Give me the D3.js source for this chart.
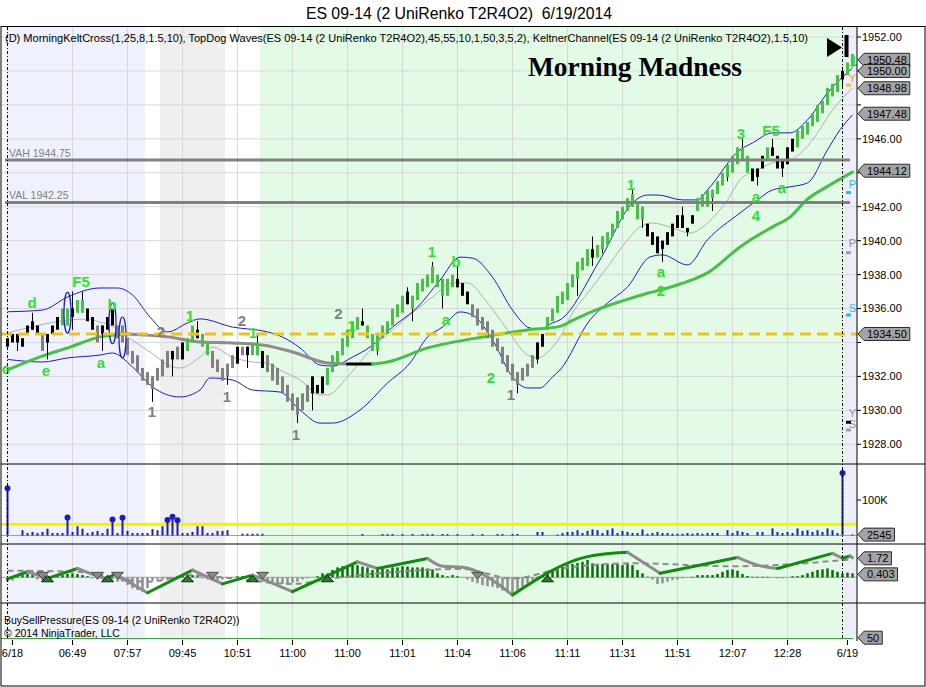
<!DOCTYPE html>
<html>
<head>
<meta charset="UTF-8" />
<title>ES 09-14 Morning Madness</title>
<script src="https://d3js.org/d3.v7.min.js"></script>
<style>
  body { margin: 0; background: #fff; }
  svg text { font-family: Arial, "Liberation Sans", sans-serif; }
</style>
</head>
<body>
<div id="chart"></div>
<script>
// ---- data ----
const priceTicks = d3.range(1928, 1953, 2);
const timeTickIdx = [1, 13, 24, 35, 46, 57, 68, 79, 90, 101, 112, 123, 134, 145, 156, 168];
const timeTickText = ["6/18", "06:49", "07:57", "09:45", "10:51", "11:00", "11:00", "11:01",
  "11:04", "11:06", "11:11", "11:31", "11:51", "12:07", "12:28", "6/19"];

// renko bars: open / close per bar, colour kind (g = up wave, r = down wave, k = other)
const barOpen = [
  1934.25, 1934.5, 1934.5, 1934.25, 1934.5, 1934.75, 1935.0, 1934.5, 1934.0, 1934.5,
  1934.75, 1935.0, 1935.0, 1936.0, 1935.75, 1935.75, 1936.0, 1935.5, 1935.0, 1934.5,
  1934.75, 1935.0, 1935.0, 1935.0, 1934.25, 1933.5, 1933.25, 1932.5, 1932.25, 1932.0,
  1931.75, 1932.0, 1932.5, 1933.5, 1933.0, 1933.0, 1933.5, 1934.0, 1934.75, 1934.5,
  1934.0, 1933.5, 1933.0, 1932.5, 1932.0, 1932.5, 1932.75, 1933.25, 1933.75, 1933.25,
  1933.25, 1933.5, 1933.25, 1932.75, 1932.5, 1932.0, 1931.5, 1931.0, 1930.75, 1930.0,
  1930.5, 1931.0, 1931.5, 1931.0, 1931.5, 1932.25, 1932.75, 1933.25, 1933.75, 1934.25,
  1934.75, 1935.25, 1935.0, 1934.5, 1934.5, 1934.25, 1934.5, 1935.0, 1935.5, 1935.75,
  1937.0, 1936.0, 1936.5, 1937.0, 1937.25, 1937.5, 1938.0, 1937.75, 1936.75, 1937.25,
  1937.75, 1937.5, 1937.0, 1936.25, 1936.0, 1935.5, 1935.25, 1934.75, 1934.25, 1933.75,
  1933.25, 1932.75, 1932.25, 1931.75, 1932.0, 1932.5, 1933.0, 1933.75, 1934.75, 1935.25,
  1935.75, 1936.25, 1936.5, 1937.25, 1937.75, 1938.25, 1938.5, 1939.5, 1939.0, 1939.5,
  1939.75, 1940.25, 1940.75, 1941.25, 1941.75, 1942.0, 1942.25, 1942.0, 1941.0, 1940.5,
  1940.25, 1940.0, 1939.75, 1940.25, 1940.75, 1941.5, 1940.75, 1941.0, 1941.75, 1942.0,
  1942.0, 1942.5, 1942.75, 1943.25, 1943.75, 1944.0, 1944.5, 1945.5, 1945.0, 1944.25,
  1944.25, 1944.25, 1944.75, 1945.5, 1945.0, 1944.75, 1944.5, 1945.25, 1945.5, 1946.0,
  1946.25, 1946.75, 1947.0, 1947.5, 1948.0, 1948.5, 1948.75, 1950.0, 1949.75, 1950.25
];
const barClose = [
  1933.75, 1934.0, 1934.0, 1933.75, 1935.0, 1935.25, 1934.5, 1933.5, 1934.5, 1935.0,
  1935.5, 1936.0, 1936.0, 1935.5, 1936.5, 1936.5, 1935.25, 1934.75, 1934.0, 1935.0,
  1935.5, 1936.0, 1934.25, 1934.0, 1933.25, 1932.75, 1932.25, 1931.75, 1931.5, 1931.25,
  1932.5, 1933.0, 1933.5, 1933.0, 1933.75, 1934.0, 1934.25, 1935.0, 1934.25, 1933.75,
  1933.25, 1932.5, 1932.25, 1931.75, 1932.75, 1933.25, 1933.75, 1933.75, 1933.25, 1934.0,
  1934.0, 1932.5, 1932.25, 1931.75, 1931.5, 1931.0, 1930.5, 1930.0, 1929.75, 1931.0,
  1931.5, 1932.0, 1931.0, 1932.0, 1932.5, 1933.25, 1933.5, 1934.25, 1934.75, 1935.25,
  1935.5, 1935.0, 1934.25, 1933.5, 1933.5, 1935.0, 1935.25, 1936.0, 1936.25, 1936.75,
  1936.25, 1936.75, 1937.5, 1937.75, 1938.0, 1938.5, 1937.25, 1936.75, 1937.75, 1938.0,
  1937.25, 1936.75, 1936.25, 1935.5, 1935.0, 1934.75, 1934.25, 1933.75, 1933.5, 1932.75,
  1932.25, 1931.75, 1931.5, 1932.5, 1932.75, 1933.25, 1934.0, 1934.5, 1935.5, 1936.0,
  1936.75, 1937.0, 1937.5, 1938.0, 1938.75, 1939.0, 1939.5, 1939.0, 1939.75, 1940.25,
  1940.5, 1941.0, 1941.75, 1942.0, 1942.5, 1942.75, 1941.25, 1941.25, 1940.25, 1939.75,
  1939.25, 1939.5, 1940.5, 1941.0, 1941.5, 1940.75, 1940.5, 1941.5, 1942.5, 1942.75,
  1943.0, 1943.0, 1943.5, 1944.0, 1944.5, 1945.0, 1945.5, 1944.75, 1944.0, 1943.5,
  1943.75, 1945.0, 1945.5, 1945.0, 1944.25, 1944.25, 1945.5, 1946.0, 1946.5, 1946.75,
  1947.0, 1947.5, 1948.0, 1948.25, 1949.0, 1949.25, 1949.75, 1949.5, 1950.5, 1951.0
];
const barKind = (
  "kkkkkkkrkk" + "kggkggkkrk" + "kkrrrrrrrr" + "rrrkrkggkg" + "grrrrrkrkg" +
  "gkrrrrrrrr" + "rkkkgggggg" + "gkgggggggg" + "kggggggggg" + "kkkrrrrrrr" +
  "rrrrrrkkgg" + "gggggggkgg" + "ggggggggkk" + "kkkkkkkkgg" + "gggggggggk" +
  "kkgkkkkkgg" + "gggggggkgg"
).split("");
// wicks: [bar, high, low]
const wicks = [
  [2, 1934.5, 1933.5], [5, 1935.75, 1934.75], [8, 1934.5, 1933.0], [13, 1937.0, 1934.75],
  [15, 1937.0, 1935.75], [19, 1935.0, 1933.5], [29, 1932.0, 1930.5], [33, 1933.5, 1932.0],
  [38, 1935.25, 1934.25], [44, 1932.75, 1931.5], [48, 1933.75, 1932.5], [50, 1934.5, 1933.25],
  [58, 1930.75, 1929.25], [61, 1932.0, 1930.0], [71, 1936.0, 1935.0], [74, 1934.5, 1933.25],
  [80, 1937.25, 1936.25], [81, 1936.75, 1935.25], [85, 1938.75, 1937.5], [87, 1937.75, 1936.0],
  [90, 1938.5, 1937.25], [102, 1932.25, 1931.0], [106, 1934.0, 1932.75], [114, 1938.75, 1936.75],
  [117, 1940.25, 1938.5], [119, 1940.25, 1939.25], [125, 1943.0, 1942.0], [127, 1942.0, 1940.75],
  [131, 1940.0, 1938.75], [135, 1942.0, 1940.75], [136, 1940.75, 1940.25], [141, 1943.0, 1941.75],
  [144, 1944.5, 1943.5], [147, 1946.0, 1944.75], [150, 1944.25, 1943.25], [153, 1946.0, 1945.0],
  [155, 1944.75, 1943.75], [167, 1950.25, 1949.0]
];

// Keltner channel vertices [bar, price]
const keltUpper = [
  [0, 1935.81], [7, 1935.91], [12, 1936.68], [18.5, 1937.21], [22, 1937.21], [25, 1936.8],
  [28.5, 1935.5], [32, 1934.62], [36, 1935.15], [38.5, 1935.39], [45, 1934.91], [52, 1934.62],
  [55, 1934.32], [58.5, 1933.68], [62.5, 1932.67], [65, 1932.61], [69, 1933.14], [72.5, 1933.73],
  [77, 1934.91], [82, 1936.08], [86.5, 1937.67], [90.5, 1939.03], [93, 1938.97], [97, 1937.85],
  [101, 1935.91], [104.5, 1934.85], [106.5, 1934.79], [109, 1935.15], [110.5, 1935.33],
  [118.5, 1938.87], [125, 1942.22], [128, 1942.69], [130, 1942.69], [135, 1942.4], [138, 1942.4],
  [140, 1942.99], [146.5, 1945.35], [149, 1945.76], [153, 1946.35], [156.5, 1946.35],
  [160, 1947.12], [164, 1948.71], [169, 1950.18]
];
const keltLower = [
  [0, 1933.0], [7, 1932.85], [12, 1933.09], [18.5, 1933.26], [21, 1933.38], [25, 1932.56],
  [29, 1931.38], [34.5, 1930.79], [38.5, 1931.2], [40.5, 1931.91], [45, 1931.79], [49, 1931.2],
  [54.5, 1931.08], [58.5, 1930.02], [62.5, 1929.25], [65, 1929.25], [70.5, 1930.02], [76, 1931.61],
  [80.5, 1932.79], [84, 1934.32], [87, 1934.91], [90.5, 1935.8], [93, 1935.62], [97, 1934.15],
  [101, 1931.97], [104, 1931.32], [106.5, 1931.32], [109, 1931.97], [110.5, 1932.38],
  [116.5, 1935.33], [120, 1936.33], [124, 1937.27], [128.5, 1939.04], [131, 1939.16],
  [136, 1938.57], [140, 1940.05], [146.5, 1941.63], [150, 1942.4], [153, 1942.99],
  [156.5, 1943.17], [160, 1943.4], [164, 1945.35], [166.5, 1946.53], [169, 1947.41]
];
const keltMid = [
  [0, 1934.56], [16, 1935.38], [18.5, 1935.2], [20.5, 1935.03], [24, 1934.32], [28.5, 1933.44],
  [33, 1932.56], [34.5, 1932.5], [38.5, 1933.14], [41, 1933.73], [45, 1933.14], [49, 1932.85],
  [52, 1932.79], [54.5, 1932.38], [58.5, 1931.79], [62.5, 1930.91], [64, 1930.91], [68, 1931.97],
  [72, 1933.38], [77, 1934.74], [81, 1935.74], [85, 1936.68], [89, 1937.51], [92, 1937.51],
  [96, 1936.33], [100, 1934.74], [104, 1933.26], [106, 1933.09], [108.5, 1933.56], [110.5, 1934.32],
  [113, 1935.74], [116.5, 1937.09], [120, 1938.45], [124, 1940.04], [126.5, 1940.81],
  [129, 1941.04], [133, 1940.75], [136.5, 1940.45], [140, 1941.04], [144, 1942.4],
  [146.5, 1943.58], [150, 1944.16], [153, 1944.58], [156.5, 1944.75], [161, 1945.93],
  [165, 1947.7], [169, 1949.0]
];
// slow moving average vertices [bar, price]
const slowMA = [
  [0, 1932.38], [6.5, 1933.15], [12.5, 1933.73], [18.5, 1934.33], [24, 1934.5], [32, 1934.33],
  [38.5, 1934.03], [45, 1933.97], [51, 1933.85], [57, 1933.44], [64, 1932.79], [68, 1932.73],
  [73, 1932.73], [76, 1932.85], [84, 1933.68], [94, 1934.27], [104, 1934.74], [110.5, 1934.95],
  [113, 1935.3], [118, 1935.95], [123, 1936.45], [128, 1936.9], [133, 1937.3], [137, 1937.7],
  [140, 1938.1], [146.5, 1939.63], [153, 1940.81], [156.5, 1941.39], [160, 1942.45],
  [164, 1943.2], [169, 1944.04]
];
const levelVAH = 1944.75;
const levelVAL = 1942.25;
const levelPivot = 1934.50;
const priceMarks = [1950.48, 1950.00, 1948.98, 1947.48, 1944.12, 1934.50];

// wave labels [bar, price, text, colour]
const waveLabels = [
  [-0.3, 1932.45, "c", "g"], [4.9, 1936.33, "d", "g"], [7.7, 1932.32, "e", "g"],
  [14.7, 1937.6, "F5", "g"], [20.9, 1936.25, "b", "g"], [18.7, 1932.8, "a", "g"],
  [36.5, 1935.57, "1", "g"], [49.1, 1934.56, "1", "g"], [68.8, 1935.0, "1", "g"],
  [84.9, 1939.33, "1", "g"], [89.7, 1938.74, "b", "g"], [87.7, 1935.33, "a", "g"],
  [96.7, 1931.91, "2", "g"], [124.7, 1943.3, "1", "g"], [130.7, 1938.15, "a", "g"],
  [130.7, 1937.05, "2", "g"], [146.7, 1946.3, "3", "g"], [152.7, 1946.5, "F5", "g"],
  [149.7, 1942.6, "a", "g"], [149.7, 1941.5, "4", "g"], [154.9, 1943.1, "a", "g"],
  [169.2, 1950.6, "1", "g"],
  [28.9, 1929.9, "1", "r"], [30.7, 1934.62, "2", "r"], [43.9, 1930.8, "1", "r"],
  [46.9, 1935.3, "2", "r"], [57.7, 1928.6, "1", "r"], [66.2, 1935.7, "2", "r"],
  [100.7, 1930.9, "1", "r"]
];
// blue ellipses [bar, centre price, half height in points]
const ellipses = [[12, 1935.75, 1.2], [21, 1935.13, 1.2], [23, 1934.3, 1.2]];
// right-margin session letters [price, text, colour]
const sideLetters = [
  [1949.57, "Y", "#d8a040"], [1943.34, "P", "#30b8e0"], [1939.84, "P", "#909090"],
  [1936.05, "S", "#30b8e0"], [1929.83, "Y", "#909090"], [1929.18, "S", "#909090"]
];
const sideDots = [[1949.17, "#e8c040"], [1942.83, "#30b8e0"], [1939.29, "#a0a0a0"],
  [1935.62, "#30b8e0"], [1929.3, "#000000"], [1928.84, "#a0a0a0"]];

// volume per bar
const volume = [
  133000, 0, 0, 15000, 7000, 10000, 7000, 10000, 19000, 7000,
  7000, 7000, 51000, 10000, 26000, 19000, 7000, 10000, 13000, 7000,
  19000, 45000, 7000, 50000, 13000, 7000, 7000, 7000, 7000, 18000,
  15000, 26000, 44000, 53000, 43000, 7000, 7000, 10000, 26000, 26000,
  7000, 7000, 13000, 13000, 15000, 0, 0, 5000, 5000, 5000,
  5000, 5000, 0, 0, 0, 0, 0, 0, 0, 0,
  0, 0, 0, 0, 0, 0, 0, 0, 0, 0,
  0, 4000, 0, 0, 0, 4000, 4000, 4000, 0, 4000,
  0, 4000, 0, 4000, 4000, 4000, 0, 4000, 4000, 0,
  4000, 0, 0, 4000, 0, 4000, 0, 0, 4000, 4000,
  0, 4000, 4000, 0, 0, 0, 10000, 10000, 0, 0,
  3000, 7000, 10000, 10000, 15000, 7000, 13000, 17000, 15000, 7000,
  15000, 20000, 7000, 13000, 10000, 7000, 7000, 17000, 5000, 7000,
  10000, 7000, 7000, 5000, 5000, 5000, 7000, 5000, 7000, 5000,
  7000, 7000, 7000, 0, 15000, 7000, 13000, 10000, 7000, 0,
  10000, 10000, 0, 20000, 10000, 7000, 10000, 7000, 20000, 13000,
  15000, 10000, 15000, 10000, 20000, 15000, 7000, 176000, 0, 3000
];
const volThreshold = 32000;
const volLast = 2545;

// BuySellPressure
const bspHist = [
  -0.4, -0.3, 0.1, 0.2, 0.3, 0.2, -0.2, -0.3, -0.2, 0,
  0.1, 0.2, 0.3, 0.35, 0.3, 0.2, 0.1, -0.1, -0.2, -0.2,
  0.1, -0.2, -0.4, -0.4, -0.7, -1.0, -1.15, -1.3, -1.0, -0.3,
  -0.2, -0.2, -0.1, -0.1, 0.1, 0.2, 0.2, 0.2, 0.1, -0.1,
  -0.2, -0.3, -0.3, -0.2, -0.1, 0, 0.1, 0.1, 0, -0.1,
  -0.2, -0.4, -0.5, -0.5, -0.6, -0.6, -0.6, -0.5, -0.4, -0.2,
  -0.1, 0, 0.1, 0.36, 0.36, 0.66, 0.9, 1.0, 1.1, 1.2,
  1.1, 0.97, 0.9, 0.66, 0.66, 0.8, 0.72, 0.9, 0.9, 1.0,
  0.97, 0.9, 0.9, 0.9, 0.8, 0.72, 0.36, 0.2, 0.1, 0.2,
  0.1, 0, -0.2, -0.4, -0.55, -0.7, -0.8, -0.85, -1.0, -1.2,
  -1.4, -1.45, -1.15, -0.85, -0.55, -0.25, 0.05, 0.2, 0.36, 0.66,
  0.8, 0.97, 1.1, 1.2, 1.3, 1.4, 1.57, 1.27, 1.2, 1.2,
  1.2, 1.2, 1.2, 1.1, 1.27, 1.1, 0.66, 0.36, 0.05, -0.2,
  -0.6, -0.55, -0.4, -0.25, -0.2, -0.1, 0, 0.05, 0.2, 0.2,
  0.2, 0.2, 0.3, 0.5, 0.66, 0.72, 0.6, 0.3, 0.12, 0.05,
  0.05, 0.05, 0.05, 0, -0.1, -0.1, 0, 0.1, 0.1, 0.2,
  0.36, 0.5, 0.66, 0.72, 0.8, 0.66, 0.5, 0.36, 0.42, 0.36
];
const bspLine = [
  [0, -0.15], [4, 0.5], [8, -0.1], [14, 0.8], [18.5, 0.05], [20, -0.1], [21.5, 0.3], [28, -1.4],
  [37, 0.65], [43, -0.6], [49, 0.2], [57, -1.3], [70, 1.4], [74, 0.8], [84, 1.7], [87, 1.0],
  [91, 0.9], [101, -1.6], [116, 1.87], [124, 2.26], [130.5, 0.36], [146, 1.8], [150, 1.1],
  [154, 0.8], [165, 2.17], [167, 1.72], [168.5, 1.93], [169, 1.78]
];
const bspSignal = [
  [0, 0.6], [14, 0.5], [28, -0.4], [37, 0.2], [45, -0.1], [57, -0.6], [65, -0.1], [91, 0.75],
  [101, -0.1], [111, 0.8], [125, 1.27], [145, 1.0], [169, 1.63]
];
const bspDown = [7, 18, 22, 41, 51, 94];
const bspUp = [8, 20, 36, 49, 64, 108];
const bspMarks = ["1.72", "0.403"];

// trading sessions shading [from bar, to bar, colour]
const zones = [[0, 27.5, "#eff2fc"], [30.5, 43.5, "#efefef"], [50.5, 167, "#e3fbe6"], [167, 169.9, "#eeeefb"]];
const sessionBreaks = [0, 167];

// ---- layout ----
const W = 926, H = 687;
const plotL = 1, plotR = 857, plotT = 27;
const mainB = 464, volB = 544, bspB = 603, lastB = 640;

const x = d3.scaleLinear().domain([0, 169]).range([7.5, 852.5]);
const y = d3.scaleLinear().domain([1928, 1952]).range([444.3, 37.0]);
const yVol = d3.scaleLinear().domain([0, 100000]).range([535.5, 500]);
const yBsp = d3.scaleLinear().domain([0, 1.72]).range([577.3, 558.3]);

const GREEN = "#48c048", LABELGREEN = "#2fe02f", GRAY = "#808080";

const svg = d3.select("#chart").append("svg")
  .attr("width", W).attr("height", H)
  .style("display", "block").style("background", "#fff");

const defs = svg.append("defs");
defs.append("clipPath").attr("id", "clipMain").append("rect")
  .attr("x", plotL).attr("y", plotT).attr("width", plotR - plotL).attr("height", mainB - plotT);
defs.append("clipPath").attr("id", "clipVol").append("rect")
  .attr("x", plotL).attr("y", mainB).attr("width", plotR - plotL).attr("height", volB - mainB);
defs.append("clipPath").attr("id", "clipBsp").append("rect")
  .attr("x", plotL).attr("y", volB).attr("width", plotR - plotL).attr("height", bspB - volB);

// split a polyline into runs of equal colour (colour chosen from each segment's slope)
function colourRuns(pts, colourOf) {
  const runs = [];
  d3.pairs(pts).forEach(([a, b]) => {
    const c = colourOf(a, b);
    const last = runs[runs.length - 1];
    if (last && last.c === c) last.pts.push(b);
    else runs.push({ c, pts: [a, b] });
  });
  return runs;
}

// title
svg.append("text").attr("x", 459).attr("y", 19).attr("text-anchor", "middle")
  .attr("font-size", 15.8).attr("fill", "#000")
  .text("ES 09-14 (2 UniRenko T2R4O2)\u00a0 6/19/2014");

// session shading across all panels
svg.append("g").selectAll("rect").data(zones).join("rect")
  .attr("x", d => x(d[0])).attr("width", d => x(d[1]) - x(d[0]))
  .attr("y", plotT).attr("height", lastB - plotT).attr("fill", d => d[2]);

// grid
const grid = svg.append("g").attr("stroke", "#d8d8d8").attr("stroke-width", 1);
grid.selectAll("line.h").data(priceTicks).join("line").attr("class", "h")
  .attr("x1", plotL).attr("x2", plotR).attr("y1", d => y(d)).attr("y2", d => y(d));
grid.selectAll("line.v").data(timeTickIdx.slice(1, -1)).join("line").attr("class", "v")
  .attr("x1", d => x(d)).attr("x2", d => x(d)).attr("y1", plotT).attr("y2", lastB);

// ---- main panel ----
const main = svg.append("g").attr("clip-path", "url(#clipMain)");
const line = d3.line().x(d => x(d[0])).y(d => y(d[1])).curve(d3.curveMonotoneX);

main.append("path").attr("d", line(keltMid)).attr("fill", "none").attr("stroke", "#b0b0b0").attr("stroke-width", 1);
main.append("path").attr("d", line(keltUpper)).attr("fill", "none").attr("stroke", "#1c1cc8").attr("stroke-width", 1);
main.append("path").attr("d", line(keltLower)).attr("fill", "none").attr("stroke", "#1c1cc8").attr("stroke-width", 1);

// slow MA coloured by slope
const maRuns = colourRuns(slowMA, (a, b) => b[1] > a[1] + 0.01 ? GREEN : (b[1] < a[1] - 0.01 ? "#8c8c8c" : "#000"));
main.append("g").selectAll("path").data(maRuns).join("path")
  .attr("d", d => line(d.pts)).attr("fill", "none")
  .attr("stroke", d => d.c).attr("stroke-width", 3).attr("stroke-linecap", "round");

// wicks
main.append("g").selectAll("line").data(wicks).join("line")
  .attr("x1", d => x(d[0])).attr("x2", d => x(d[0]))
  .attr("y1", d => y(d[1])).attr("y2", d => y(d[2]))
  .attr("stroke", "#000").attr("stroke-width", 1);

// bodies
const kindColor = { g: GREEN, r: GRAY, k: "#000" };
main.append("g").selectAll("rect").data(barOpen.map((o, i) => [i, o, barClose[i], barKind[i]])).join("rect")
  .attr("x", d => x(d[0]) - 1.5).attr("width", 3)
  .attr("y", d => y(Math.max(d[1], d[2])))
  .attr("height", d => Math.max(1, y(Math.min(d[1], d[2])) - y(Math.max(d[1], d[2]))))
  .attr("fill", d => kindColor[d[3]]);

// ellipses
main.append("g").selectAll("ellipse").data(ellipses).join("ellipse")
  .attr("cx", d => x(d[0])).attr("cy", d => y(d[1]))
  .attr("rx", 3.5).attr("ry", d => y(d[1] - d[2]) - y(d[1]))
  .attr("fill", "none").attr("stroke", "#2020d0").attr("stroke-width", 1.2);

// levels
main.append("line").attr("x1", 5).attr("x2", 850).attr("y1", y(levelVAH)).attr("y2", y(levelVAH))
  .attr("stroke", "#808080").attr("stroke-width", 3);
main.append("line").attr("x1", 5).attr("x2", 850).attr("y1", y(levelVAL)).attr("y2", y(levelVAL))
  .attr("stroke", "#808080").attr("stroke-width", 3);
main.append("text").attr("x", 9).attr("y", y(levelVAH) - 3).attr("font-size", 10.5).attr("fill", "#808080")
  .text("VAH " + levelVAH.toFixed(2));
main.append("text").attr("x", 9).attr("y", y(levelVAL) - 3).attr("font-size", 10.5).attr("fill", "#808080")
  .text("VAL " + levelVAL.toFixed(2));
main.append("line").attr("x1", plotL).attr("x2", plotR).attr("y1", y(levelPivot)).attr("y2", y(levelPivot))
  .attr("stroke", "#f2c40c").attr("stroke-width", 3).attr("stroke-dasharray", "11,6");

// wave labels
main.append("g").selectAll("text").data(waveLabels).join("text")
  .attr("x", d => x(d[0])).attr("y", d => y(d[1])).attr("dy", "0.36em")
  .attr("text-anchor", "middle").attr("font-size", 15).attr("font-weight", "bold")
  .attr("fill", d => d[3] === "g" ? LABELGREEN : GRAY)
  .text(d => d[2]);

// side letters
main.append("g").selectAll("text").data(sideLetters).join("text")
  .attr("x", 852.5).attr("y", d => y(d[0])).attr("dy", "0.36em").attr("text-anchor", "middle")
  .attr("font-size", 11).attr("fill", d => d[2]).text(d => d[1]);
main.append("g").selectAll("rect").data(sideDots).join("rect")
  .attr("x", 846).attr("y", d => y(d[0]) - 1.5).attr("width", 5).attr("height", 3).attr("fill", d => d[1]);

// header
main.append("text").attr("x", 5).attr("y", 42).attr("font-size", 11).attr("fill", "#000")
  .attr("textLength", 803).attr("lengthAdjust", "spacingAndGlyphs")
  .text("(D) MorningKeltCross(1,25,8,1.5,10),  TopDog Waves(ES 09-14 (2 UniRenko T2R4O2),45,55,10,1,50,3,5,2),  KeltnerChannel(ES 09-14 (2 UniRenko T2R4O2),1.5,10)");
main.append("text").attr("x", 528).attr("y", 76).attr("font-size", 27).attr("font-weight", "bold")
  .style("font-family", "'Liberation Serif', 'Times New Roman', serif")
  .attr("textLength", 214).attr("lengthAdjust", "spacingAndGlyphs").attr("fill", "#000")
  .text("Morning Madness");

// scroll-to-end control
svg.append("path").attr("d", "M827,38 L842,47.5 L827,57 Z").attr("fill", "#000");
svg.append("rect").attr("x", 844.5).attr("y", 35).attr("width", 4).attr("height", 22).attr("fill", "#000");

// ---- volume panel ----
const vol = svg.append("g").attr("clip-path", "url(#clipVol)");
vol.append("line").attr("x1", plotL).attr("x2", plotR).attr("y1", yVol(0)).attr("y2", yVol(0))
  .attr("stroke", "#a0a0a0");
vol.append("line").attr("x1", plotL).attr("x2", plotR).attr("y1", yVol(volThreshold)).attr("y2", yVol(volThreshold))
  .attr("stroke", "#f6f200").attr("stroke-width", 3);
const volData = volume.map((v, i) => [i, v]).filter(d => d[1] > 0);
vol.append("g").selectAll("rect").data(volData).join("rect")
  .attr("x", d => x(d[0]) - 1).attr("width", 2)
  .attr("y", d => yVol(d[1])).attr("height", d => yVol(0) - yVol(d[1]))
  .attr("fill", "#1c1cc0");
vol.append("g").selectAll("circle").data(volData.filter(d => d[1] > volThreshold)).join("circle")
  .attr("cx", d => x(d[0])).attr("cy", d => yVol(d[1])).attr("r", 3).attr("fill", "#1c1cc0");

// ---- BuySellPressure panel ----
const bsp = svg.append("g").attr("clip-path", "url(#clipBsp)");
bsp.append("line").attr("x1", plotL).attr("x2", plotR).attr("y1", yBsp(0)).attr("y2", yBsp(0)).attr("stroke", "#a0a0a0");
bsp.append("g").selectAll("rect").data(bspHist.map((v, i) => [i, v]).filter(d => d[1] !== 0)).join("rect")
  .attr("x", d => x(d[0]) - 1.25).attr("width", 2.5)
  .attr("y", d => Math.min(yBsp(d[1]), yBsp(0)))
  .attr("height", d => Math.abs(yBsp(d[1]) - yBsp(0)))
  .attr("fill", d => d[1] > 0 ? "#0a6e0a" : "#909090");
const bspL = d3.line().x(d => x(d[0])).y(d => yBsp(d[1])).curve(d3.curveMonotoneX);
bsp.append("path").attr("d", bspL(bspSignal)).attr("fill", "none")
  .attr("stroke", "#8c8c8c").attr("stroke-width", 2).attr("stroke-dasharray", "6,4");
const bspRuns = colourRuns(bspLine, (a, b) => b[1] >= a[1] ? "#108a10" : "#8c8c8c");
bsp.append("g").selectAll("path").data(bspRuns).join("path")
  .attr("d", d => bspL(d.pts)).attr("fill", "none")
  .attr("stroke", d => d.c).attr("stroke-width", 3).attr("stroke-linecap", "round");
const y0 = yBsp(0);
bsp.append("g").selectAll("path").data(bspDown).join("path")
  .attr("d", d => `M${x(d) - 6},${y0 - 5} L${x(d) + 6},${y0 - 5} L${x(d)},${y0 + 1.5} Z`)
  .attr("fill", "#8a8a8a").attr("stroke", "#333").attr("stroke-width", 0.8);
bsp.append("g").selectAll("path").data(bspUp).join("path")
  .attr("d", d => `M${x(d) - 6},${y0 + 4.5} L${x(d) + 6},${y0 + 4.5} L${x(d)},${y0 - 2} Z`)
  .attr("fill", "#2e7a2e").attr("stroke", "#000").attr("stroke-width", 0.8);

// ---- bottom panel ----
svg.append("line").attr("x1", plotL).attr("x2", 853).attr("y1", 638.5).attr("y2", 638.5)
  .attr("stroke", "#3aa53a").attr("stroke-width", 1.2);
svg.append("text").attr("x", 4).attr("y", 624).attr("font-size", 10.5).attr("fill", "#000")
  .text("BuySellPressure(ES 09-14 (2 UniRenko T2R4O2))");
svg.append("text").attr("x", 4).attr("y", 637).attr("font-size", 10.5).attr("fill", "#000")
  .text("\u00a9 2014 NinjaTrader, LLC");

// session break lines
svg.append("g").selectAll("line").data(sessionBreaks).join("line")
  .attr("x1", d => x(d)).attr("x2", d => x(d)).attr("y1", plotT).attr("y2", lastB)
  .attr("stroke", "#000").attr("stroke-width", 1).attr("stroke-dasharray", "3,2,1,2");

// ---- frames ----
const frame = svg.append("g").attr("stroke", "#000").attr("stroke-width", 1);
frame.append("rect").attr("x", 1).attr("y", 26.5).attr("width", 924).attr("height", 659.5).attr("fill", "none");
[mainB, volB, bspB].forEach(v => frame.append("line").attr("x1", 1).attr("x2", 925).attr("y1", v).attr("y2", v));
frame.append("line").attr("x1", plotR).attr("x2", plotR).attr("y1", plotT).attr("y2", lastB + 1);

// right price axis (labels hidden behind a value box are left out)
const axisG = svg.append("g");
axisG.selectAll("line").data(priceTicks).join("line")
  .attr("x1", plotR).attr("x2", plotR + 4).attr("y1", d => y(d)).attr("y2", d => y(d)).attr("stroke", "#000");
axisG.selectAll("text").data(priceTicks.filter(p => !priceMarks.some(m => Math.abs(y(m) - y(p)) < 10)))
  .join("text")
  .attr("x", 862).attr("y", d => y(d)).attr("dy", "0.36em").attr("font-size", 11)
  .text(d => d.toFixed(2));

// volume / bsp axis labels
svg.append("line").attr("x1", plotR).attr("x2", plotR + 4).attr("y1", yVol(100000)).attr("y2", yVol(100000)).attr("stroke", "#000");
svg.append("text").attr("x", 862).attr("y", yVol(100000)).attr("dy", "0.36em").attr("font-size", 11).text("100K");

// value boxes on the axis
function valueBox(yy, txt) {
  const g = svg.append("g");
  const t = g.append("text").attr("x", 867).attr("y", yy).attr("dy", "0.36em")
    .attr("font-size", 11).attr("fill", "#000").text(txt);
  const w = t.node().getComputedTextLength();
  g.insert("path", "text")
    .attr("d", `M${plotR + 1},${yy} L${plotR + 7},${yy - 6.5} L${867 + w + 3},${yy - 6.5} L${867 + w + 3},${yy + 6.5} L${plotR + 7},${yy + 6.5} Z`)
    .attr("fill", "#a4a4a4").attr("stroke", "#000").attr("stroke-width", 0.8);
}
// the 1950.48 box sits behind the 1950.00 one; nudge it up so its value stays readable
valueBox(y(priceMarks[0]) - 3, priceMarks[0].toFixed(2));
priceMarks.slice(1).forEach(p => valueBox(y(p), p.toFixed(2)));
valueBox(yVol(volLast), String(volLast));
valueBox(yBsp(+bspMarks[0]), bspMarks[0]);
valueBox(yBsp(+bspMarks[1]) + 1.5, bspMarks[1]);
valueBox(637.7, "50");

// time axis
const tAxis = svg.append("g");
tAxis.selectAll("line").data(timeTickIdx).join("line")
  .attr("x1", d => x(d)).attr("x2", d => x(d)).attr("y1", lastB).attr("y2", lastB + 5).attr("stroke", "#000");
tAxis.selectAll("text").data(timeTickIdx).join("text")
  .attr("x", d => x(d)).attr("y", 657).attr("text-anchor", "middle").attr("font-size", 11)
  .text((d, i) => timeTickText[i]);
</script>
</body>
</html>
